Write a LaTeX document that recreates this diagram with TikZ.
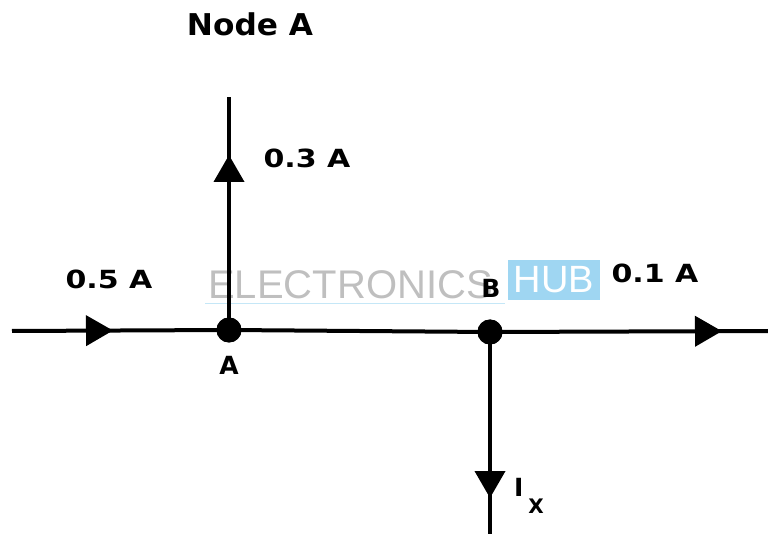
\documentclass[tikz,border=0pt]{standalone}
\usepackage{fontspec}
\setmainfont{DejaVu Sans}
\newfontfamily\wmfont{Liberation Sans}
\usetikzlibrary{arrows.meta,decorations.markings}
\definecolor{hubblue}{HTML}{9FD6F2}
\tikzset{
  wire/.style={line width=4pt,black},
  dotnode/.style={circle,fill=black,inner sep=0pt,minimum size=25pt},
  lbl/.style={font=\bfseries\fontsize{25}{25}\selectfont,inner sep=0pt,xscale=1.2},
  headlbl/.style={font=\bfseries\fontsize{30}{30}\selectfont,inner sep=0pt,xscale=1.04},
  tipat/.style={postaction={decorate},decoration={markings,
      mark=at position #1 with {\arrow{Triangle[width=30pt,length=27pt]}}}}
}
\begin{document}
\begin{tikzpicture}[x=1pt,y=-1pt]
\useasboundingbox (0,0) rectangle (768,534);
% watermark
\node[font=\wmfont\fontsize{40}{40}\selectfont,text=black!25,inner sep=0pt,anchor=west] (wm) at (208,285) {ELECTRONICS};
\node[fill=hubblue,text=white,font=\wmfont\fontsize{38}{38}\selectfont,inner sep=2pt,minimum width=92pt,minimum height=40pt] (hub) at (554,280) {HUB};
\draw[hubblue!60,line width=0.8pt] (wm.south west) ++(-3,4) coordinate (ul1) -- ++(300,0) coordinate (ul2);
% coordinates
\coordinate (L) at (12,331);
\coordinate (R) at (768,331);
\coordinate (T) at (229,97);
\coordinate (Bot) at (490,534);
\node[dotnode] (A) at (229,330) {};
\node[dotnode] (B) at (490,332) {};
% wires
\draw[wire,tipat=101pt] (L) -- (A.center);
\draw[wire] (A.center) -- (B.center);
\draw[wire,tipat=232pt] (B.center) -- (R);
\draw[wire,tipat=175pt] (A.center) -- (T);
\draw[wire,tipat=166pt] (B.center) -- (Bot);
\node[dotnode] at (A) {};
\node[dotnode] at (B) {};
% labels
\node[headlbl] (nodeA) at (250,24) {Node A};
\node[lbl] (l03) at (307,158) {0.3 A};
\node[lbl] (l05) at (109,279) {0.5 A};
\node[lbl] (l01) at (655,273) {0.1 A};
\node[lbl,xscale=1/1.2] (la) at (229,365) {A};
\node[lbl,xscale=1/1.2] (lb) at (491,288) {B};
\node[lbl,anchor=west,xscale=1/1.2] (lix) at (514,487) {I};
\node[font=\bfseries\fontsize{20}{20}\selectfont,inner sep=0pt] (lx) at (536,506) {X};
\end{tikzpicture}
\end{document}
